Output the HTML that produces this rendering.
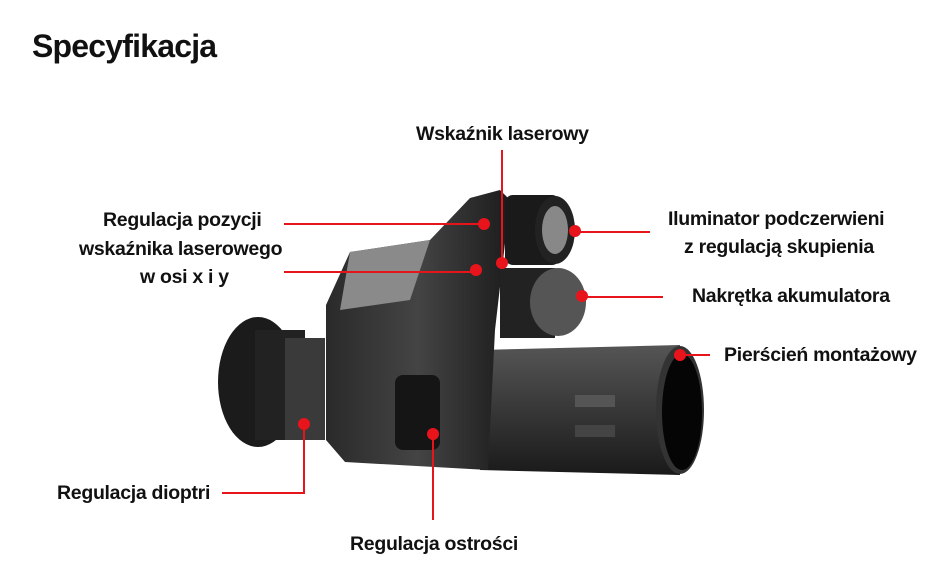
<!DOCTYPE html>
<html><head><meta charset="utf-8"><style>
body{margin:0;width:934px;height:586px;background:#fff;position:relative;overflow:hidden;font-family:"Liberation Sans",sans-serif}
.t{position:absolute;font-weight:bold;font-size:19.5px;color:#111;white-space:nowrap;letter-spacing:-0.3px}
</style></head><body>
<div class="t" style="left:32px;top:28px;font-size:32px;letter-spacing:-0.8px">Specyfikacja</div>
<svg width="934" height="586" style="position:absolute;left:0;top:0">
<defs>
<linearGradient id="g1" x1="0" y1="0" x2="0" y2="1"><stop offset="0" stop-color="#555"/><stop offset="1" stop-color="#1a1a1a"/></linearGradient>
<linearGradient id="g2" x1="0" y1="0" x2="1" y2="0"><stop offset="0" stop-color="#2a2a2a"/><stop offset="0.5" stop-color="#444"/><stop offset="1" stop-color="#1c1c1c"/></linearGradient>
</defs>
<path d="M480 350 L680 345 L680 475 L480 470 Z" fill="url(#g1)"/>
<ellipse cx="680" cy="410" rx="24" ry="64" fill="#333"/>
<ellipse cx="682" cy="412" rx="20" ry="58" fill="#050505"/>
<rect x="575" y="395" width="40" height="12" fill="#555"/>
<rect x="575" y="425" width="40" height="12" fill="#444"/>
<ellipse cx="258" cy="382" rx="40" ry="65" fill="#1b1b1b"/>
<rect x="255" y="330" width="50" height="110" fill="#222"/>
<rect x="285" y="338" width="40" height="102" fill="#3a3a3a"/>
<path d="M326 305 L350 252 L430 240 L470 198 L500 190 L510 200 L495 330 L488 470 L345 462 L326 440 Z" fill="url(#g2)"/>
<path d="M350 252 L430 240 L410 300 L340 310 Z" fill="#8a8a8a"/>
<rect x="395" y="375" width="45" height="75" rx="8" fill="#151515"/>
<rect x="505" y="195" width="55" height="70" rx="8" fill="#1a1a1a"/>
<ellipse cx="555" cy="230" rx="20" ry="34" fill="#222"/>
<ellipse cx="555" cy="230" rx="13" ry="24" fill="#888"/>
<rect x="500" y="268" width="55" height="70" fill="#222"/>
<ellipse cx="558" cy="302" rx="28" ry="34" fill="#555"/>
<g stroke="#e8141b" stroke-width="2" fill="none">
<path d="M284 224 H484"/><path d="M284 272 H476"/><path d="M502 150 V263"/>
<path d="M575 232 H650"/><path d="M582 297 H663"/><path d="M680 355 H710"/>
<path d="M304 424 V493 H222"/><path d="M433 434 V520"/>
</g>
<g fill="#e8141b">
<circle cx="484" cy="224" r="6"/><circle cx="476" cy="270" r="6"/><circle cx="502" cy="263" r="6"/>
<circle cx="575" cy="231" r="6"/><circle cx="582" cy="296" r="6"/><circle cx="680" cy="355" r="6"/>
<circle cx="304" cy="424" r="6"/><circle cx="433" cy="434" r="6"/>
</g>
</svg>
<div class="t" style="left:416px;top:123px">Wskaźnik laserowy</div>
<div class="t" style="left:103px;top:209px">Regulacja pozycji</div>
<div class="t" style="left:79px;top:238px">wskaźnika laserowego</div>
<div class="t" style="left:140px;top:266px">w osi x i y</div>
<div class="t" style="left:668px;top:208px">Iluminator podczerwieni</div>
<div class="t" style="left:684px;top:236px">z regulacją skupienia</div>
<div class="t" style="left:692px;top:285px">Nakrętka akumulatora</div>
<div class="t" style="left:724px;top:344px">Pierścień montażowy</div>
<div class="t" style="left:57px;top:482px">Regulacja dioptri</div>
<div class="t" style="left:350px;top:533px">Regulacja ostrości</div>
</body></html>
